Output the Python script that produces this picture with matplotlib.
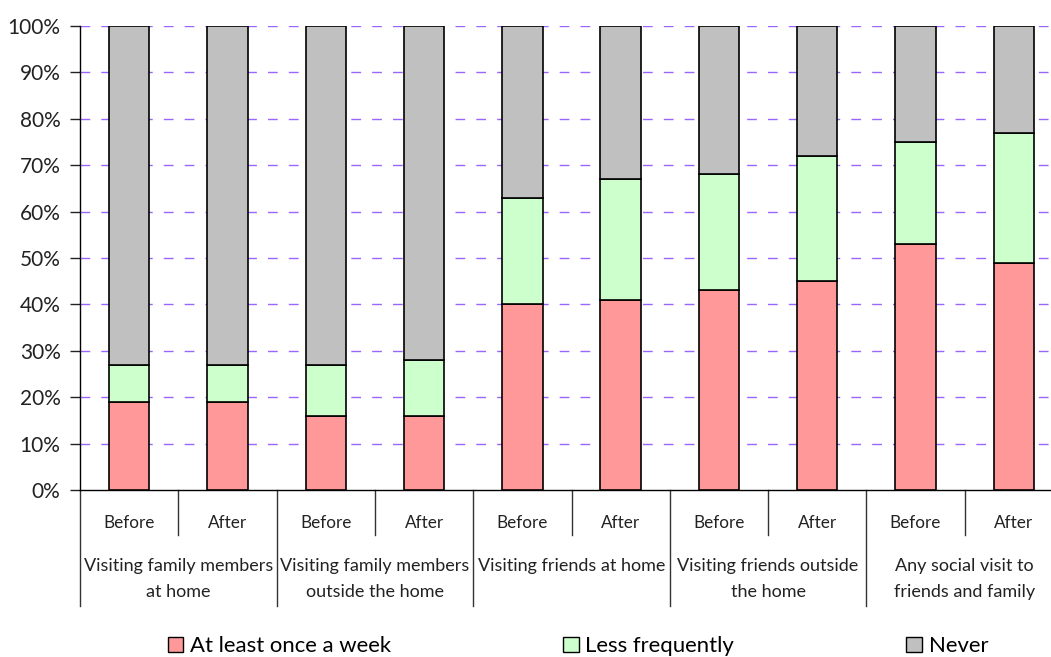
import matplotlib
matplotlib.use("Agg")
import matplotlib.pyplot as plt
from matplotlib.patches import Patch
import matplotlib.transforms as mtransforms

plt.rcParams['font.family'] = ['Lato', 'DejaVu Sans']

groups = ["Visiting family members\nat home",
          "Visiting family members\noutside the home",
          "Visiting friends at home",
          "Visiting friends outside\nthe home",
          "Any social visit to\nfriends and family"]
periods = ["Before", "After"]
weekly = [19, 19, 16, 16, 40, 41, 43, 45, 53, 49]
cumulative_less = [27, 27, 27, 28, 63, 67, 68, 72, 75, 77]
total = [100] * 10
less = [c - w for c, w in zip(cumulative_less, weekly)]
never = [t - c for t, c in zip(total, cumulative_less)]
series_names = ["At least once a week", "Less frequently", "Never"]
colors = ["#FF9999", "#CCFFCC", "#C0C0C0"]
yticks = list(range(0, 101, 10))

W, H = 1051, 657
fig = plt.figure(figsize=(W / 100, H / 100), dpi=100)
ax = fig.add_axes([80 / W, (H - 490) / H, (1063 - 80) / W, (490 - 26) / H])

x = list(range(len(weekly)))
bw = 0.41
bottoms = [0] * len(x)
for vals, col in zip([weekly, less, never], colors):
    ax.bar(x, vals, bw, bottom=bottoms, color=col, edgecolor='black', linewidth=1.2, zorder=3)
    bottoms = [b + v for b, v in zip(bottoms, vals)]

ax.set_xlim(-0.5, len(x) - 0.5)
ax.set_ylim(0, 100)
ax.set_yticks(yticks)
ax.set_yticklabels([f"{t}%" for t in yticks], fontsize=15)
for t in yticks[1:]:
    ax.axhline(t, color='#9966FF', linewidth=1.0, linestyle=(0, (7, 8)), zorder=1)

for s in ['top', 'right']:
    ax.spines[s].set_visible(False)
ax.spines['left'].set_linewidth(1.0)
ax.spines['bottom'].set_linewidth(1.0)
ax.tick_params(axis='y', length=7, width=1, pad=7, colors='#222222')
ax.tick_params(axis='x', length=0, labelbottom=False)

trans = mtransforms.blended_transform_factory(ax.transData, ax.transAxes)
short = -45 / 464
long_ = -116 / 464
for i in range(len(x)):
    ax.text(i, -32.5 / 464, periods[i % 2], transform=trans, ha='center', va='center', fontsize=12.3, color='#222222')
for g in range(len(groups)):
    ax.plot([2 * g - 0.5, 2 * g - 0.5], [0, long_], transform=trans, color='#333333', linewidth=1, clip_on=False)
    ax.plot([2 * g + 0.5, 2 * g + 0.5], [0, short], transform=trans, color='#333333', linewidth=1, clip_on=False)
    ax.text(2 * g + 0.5, -68 / 464, groups[g], transform=trans, ha='center', va='top', fontsize=13,
            color='#222222', linespacing=1.8)

handles = [Patch(facecolor=c, edgecolor='black', linewidth=1) for c in colors]
fig.legend(handles, series_names, loc='center', bbox_to_anchor=(578 / W, (H - 646) / H), ncol=3,
           frameon=False, fontsize=15.9, handlelength=0.7, handleheight=0.7, handletextpad=0.3,
           columnspacing=7.8, borderpad=0)

fig.savefig("out.png", dpi=100)
